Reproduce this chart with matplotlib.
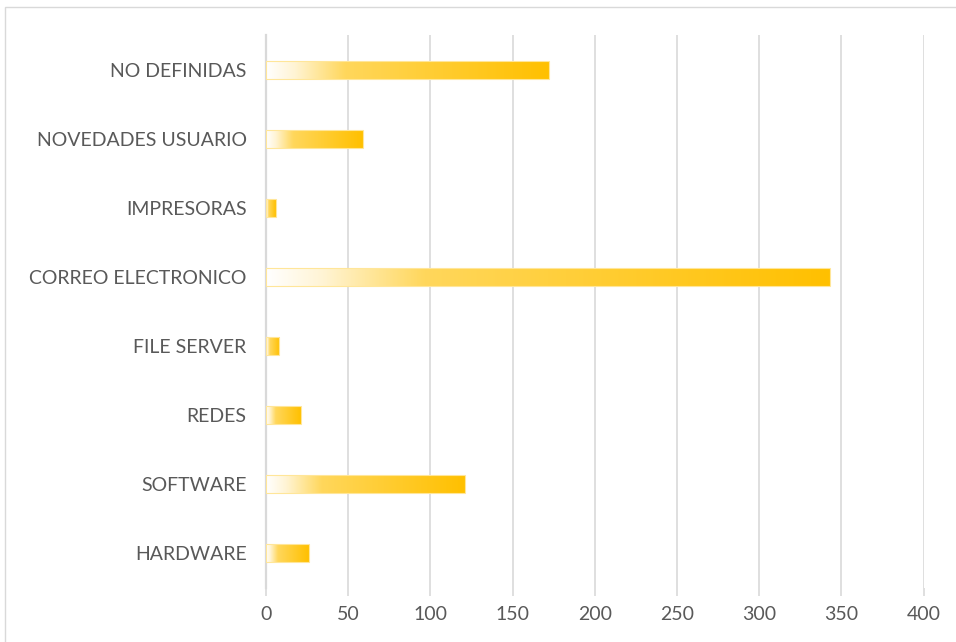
import matplotlib
matplotlib.use("Agg")
import matplotlib.pyplot as plt
import numpy as np
from matplotlib.colors import LinearSegmentedColormap
from matplotlib.patches import Rectangle

categories = ["NO DEFINIDAS", "NOVEDADES USUARIO", "IMPRESORAS", "CORREO ELECTRONICO",
              "FILE SERVER", "REDES", "SOFTWARE", "HARDWARE"]
values = [172, 59, 6, 343, 8, 21, 121, 26]
xticks = [0, 50, 100, 150, 200, 250, 300, 350, 400]

plt.rcParams['font.family'] = ['Lato', 'DejaVu Sans']

fig = plt.figure(figsize=(9.56, 6.42), dpi=100)
fig.patches.append(Rectangle((5/956, -0.1), 1.1, 1 - 7/642 + 0.1, transform=fig.transFigure,
                             fill=False, edgecolor='#D9D9D9', linewidth=1.0))
ax = fig.add_axes([266/956, 1 - 588/642, (923.6 - 266)/956, (588 - 35)/642])

cmap = LinearSegmentedColormap.from_list("gold", [
    (0.0, "#FFFFFF"), (0.1, "#FFF4D4"), (0.2, "#FFE490"), (0.28, "#FFD75C"),
    (0.5, "#FFD03F"), (1.0, "#FFC000")])
grad = np.linspace(0, 1, 256).reshape(1, -1)

n = len(categories)
ypos = np.arange(n)[::-1]
h = 0.26
for y, v in zip(ypos, values):
    ax.imshow(grad, cmap=cmap, extent=[0, v, y - h/2, y + h/2], aspect='auto',
              interpolation='bilinear', zorder=3)
    ax.add_patch(Rectangle((0, y - h/2), v, h, fill=False, edgecolor='#FFE699',
                           linewidth=0.8, zorder=4))

ax.set_xlim(0, 400)
ax.set_ylim(-0.5, n - 0.5)
ax.set_xticks(xticks)
ax.set_xticklabels([str(t) for t in xticks])
ax.set_yticks(ypos)
ax.set_yticklabels(categories)
ax.grid(axis='x', color='#D9D9D9', linewidth=1.2, zorder=0)
ax.set_axisbelow(True)
for s in ['top', 'right', 'bottom']:
    ax.spines[s].set_visible(False)
ax.spines['left'].set_color('#D9D9D9')
ax.spines['left'].set_linewidth(1.6)
ax.spines['left'].set_zorder(1)
ax.tick_params(axis='y', length=0, pad=14, labelsize=14, labelcolor='#595959')
ax.tick_params(axis='x', length=6, width=1.2, color='#D9D9D9', pad=7, labelsize=14,
               labelcolor='#595959')

fig.savefig("out.png", dpi=100)
